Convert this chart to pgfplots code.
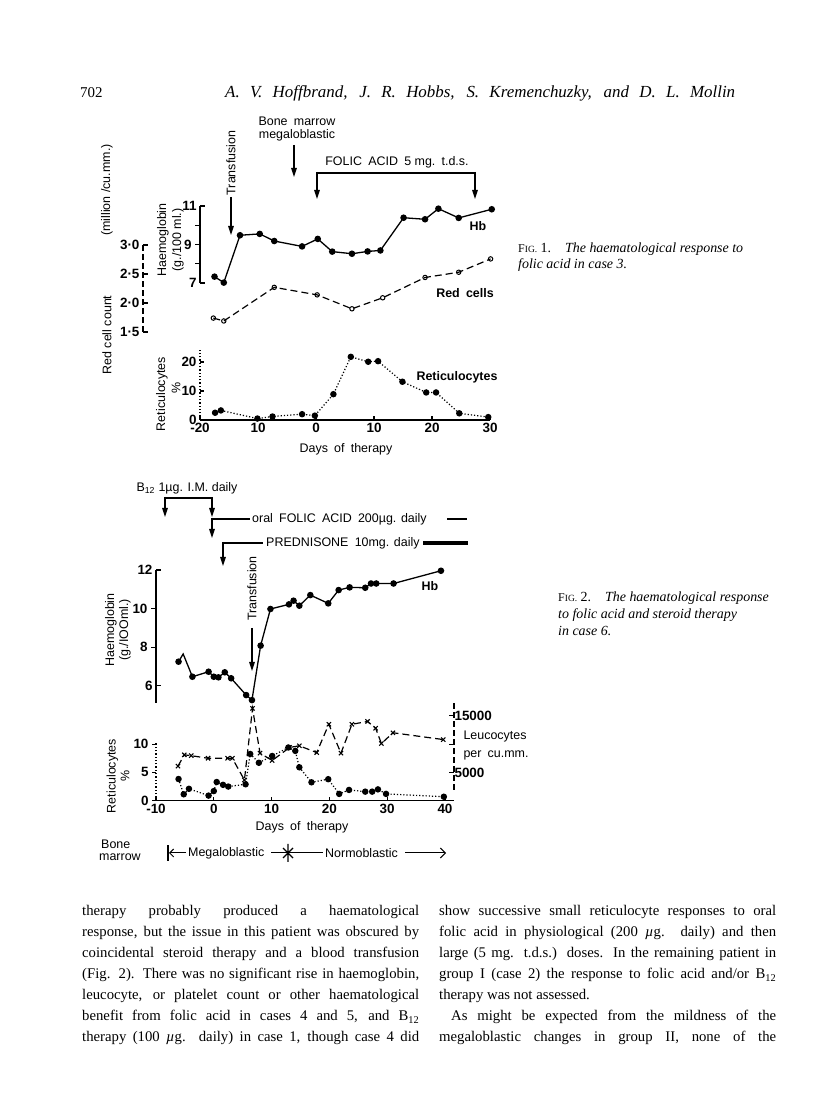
\documentclass[border=0pt]{standalone}
\usepackage{fontspec}
\setmainfont{Liberation Serif}
\setsansfont{Liberation Sans}
\usepackage{pgfplots}
\pgfplotsset{compat=1.18}
\usetikzlibrary{arrows.meta}

\newcommand{\ff}{\sffamily\fontsize{12.5}{14}\selectfont}
\newcommand{\tf}{\sffamily\bfseries\fontsize{13.5}{15}\selectfont}
\newcommand{\bt}{\fontsize{14.8}{16}\selectfont}

\pgfplotsset{
  page/.style={scale only axis, clip=false, anchor=south west,
    tick label style={font=\tf},
    /pgf/number format/assume math mode=true,
    axis line style={line width=1.3bp},
    every tick/.style={black, line width=1.1bp},
    major tick length=5bp},
  hb/.style={black, line width=1.3bp, mark=*, mark size=2.6bp},
}
\tikzset{dar/.style={-{Triangle[length=9bp,width=5.5bp]}, line width=1.4bp},
  lab/.style={font=\ff}, blab/.style={font=\ff\bfseries}}

\begin{document}
\begin{tikzpicture}[x=1bp,y=1bp]
\path[use as bounding box, fill=white] (0,0) rectangle (816,1118);
\coordinate (A1) at (200,835);
\coordinate (A2) at (143,786);
\coordinate (A3) at (200,698);
\coordinate (B1) at (156,415);
\coordinate (B2) at (156,317.3);
\coordinate (B3) at (156,328);

% ---- page header
\node[anchor=base west, inner sep=0] at (80,1020) {\fontsize{15}{17}\selectfont 702};
\node[anchor=base west, inner sep=0] at (225,1020) {\makebox[510bp][s]{\itshape\fontsize{17}{19}\selectfont A. V. Hoffbrand, J. R. Hobbs, S. Kremenchuzky, and D. L. Mollin}};

% ================= FIG. 1 =================
% Hb
\begin{axis}[page, at={(A1)}, width=290bp, height=77bp,
  xmin=-20, xmax=30, ymin=7, ymax=11,
  axis x line=none, axis y line*=left, xtick=\empty,
  ytick={8,9,10}, yticklabels={,9,}, tick align=outside,
  extra y ticks={7,11}, extra y tick labels={7,11},
  extra y tick style={tick align=inside}]
\addplot[hb] coordinates {
  (-17.5,7.33) (-15.9,7.02) (-13.1,9.48) (-9.7,9.55) (-7.2,9.18) (-2.4,8.90)
  (0.3,9.29) (2.8,8.63) (6.2,8.52) (8.9,8.64) (11.1,8.69) (15.1,10.39)
  (18.8,10.31) (21.1,10.86) (24.6,10.38) (30.3,10.83)};
\end{axis}
% Red cells
\begin{axis}[page, at={(A2)}, width=347bp, height=87bp,
  xmin=-29.83, xmax=30, ymin=1.5, ymax=3.0,
  axis x line=none, axis y line*=left, xtick=\empty,
  y axis line style={dash pattern=on 6bp off 3bp},
  ytick={1.5,2,2.5,3}, yticklabels={1·5,2·0,2·5,3·0}, tick align=inside]
\addplot[black, line width=1.2bp, dash pattern=on 7bp off 4bp,
  mark=o, mark size=2.2bp, mark options={solid, fill=white, line width=1bp}] coordinates {
  (-17.7,1.74) (-15.9,1.69) (-7.2,2.27) (0.2,2.14) (6.2,1.90) (11.5,2.09)
  (18.8,2.44) (24.6,2.53) (30.1,2.76)};
\end{axis}
% Reticulocytes
\begin{axis}[page, at={(A3)}, width=290bp, height=71bp,
  xmin=-20, xmax=30, ymin=0, ymax=24.5,
  axis x line*=bottom, axis y line*=left,
  y axis line style={dotted, line width=1.3bp},
  ytick={0,10,20}, yticklabels={0,10,20},
  xtick={-20,-10,0,10,20,30}, xticklabels={-20,10,0,10,20,30},
  tick align=inside, major tick length=4bp]
\addplot[black, line width=1.2bp, dotted, mark=*, mark size=2.6bp,
  mark options={solid}] coordinates {
  (-17.4,2.5) (-16.4,3.3) (-10.1,0.5) (-7.5,1.2) (-2.4,2.0) (-0.2,1.5)
  (3.0,8.9) (6.0,21.8) (9.0,20.1) (10.7,20.3) (14.9,13.2) (19.0,9.5)
  (20.7,9.5) (24.7,2.3) (29.7,1.0)};
\end{axis}

% fig 1 labels and annotations
\node[rotate=90, lab] at (107,783) {Red cell count};
\node[rotate=90, lab] at (107,928) {(million /cu.mm.)};
\node[rotate=90, lab] at (163,878) {Haemoglobin};
\node[rotate=90, lab] at (178,878) {(g./100 ml.)};
\node[rotate=90, lab] at (162,724) {Reticulocytes};
\node[rotate=90, lab] at (176,730) {\%};
\node[lab] at (346,669) {Days\enspace of\enspace therapy};
\node[blab] at (478,892) {Hb};
\node[blab] at (465,825) {Red\enspace cells};
\node[blab] at (457,741) {Reticulocytes};
\node[lab, align=center] at (297,989) {Bone\enspace marrow\\megaloblastic};
\draw[dar] (294,973) -- (294,941);
\node[rotate=90, lab] at (231,955) {Transfusion};
\draw[dar] (231,921) -- (231,883);
\node[lab] at (397,956) {FOLIC\enspace ACID\enspace 5 mg.\enspace t.d.s.};
\draw[line width=2.2bp] (316,945) -- (476,945);
\draw[dar] (317,946) -- (317,919);
\draw[dar] (475,946) -- (475,919);

\node[anchor=base west, inner sep=0] at (518,865) {\fontsize{14}{16}\selectfont{\fontsize{12}{14}\selectfont F\fontsize{9.5}{11}\selectfont IG.}\ 1.\quad\itshape The haematological response to};
\node[anchor=base west, inner sep=0] at (518,849) {\fontsize{14}{16}\selectfont\itshape folic acid in case 3.};

% ================= FIG. 2 =================
\begin{axis}[page, at={(B1)}, width=289bp, height=133bp,
  xmin=-10, xmax=40, ymin=5.11, ymax=12,
  axis x line=none, axis y line*=left, xtick=\empty,
  ytick={8,10}, yticklabels={8,10}, tick align=outside,
  extra y ticks={6,12}, extra y tick labels={6,12},
  extra y tick style={tick align=inside}]
\addplot[hb, mark indices={1,3,4,5,6,7,8,9,10,11,12,13,14,15,16,17,18,19,20,21,22,23,24}] coordinates {
  (-6.1,7.25) (-5.3,7.65) (-3.7,6.47) (-0.9,6.73) (0,6.47) (0.8,6.44)
  (1.9,6.70) (3.0,6.39) (5.6,5.52) (6.6,5.26) (8.1,8.08) (9.8,9.98)
  (13.0,10.22) (13.8,10.41) (14.8,10.15) (16.7,10.70) (19.8,10.27) (21.6,10.96)
  (23.5,11.10) (26.2,11.08) (27.2,11.30) (28.1,11.30) (31.1,11.30) (39.3,11.96)};
\end{axis}
% Reticulocytes and leucocytes (thousands per cu.mm.)
\begin{axis}[page, at={(B2)}, width=298bp, height=97.7bp,
  xmin=-10, xmax=41.56, ymin=0, ymax=17.26,
  axis x line*=bottom, axis y line*=left,
  y axis line style={draw=none},
  ytick=\empty, extra y ticks={0,5,10}, extra y tick labels={0,5,10},
  extra y tick style={tick align=outside},
  xtick={-10,0,10,20,30,40}, xticklabels={-10,0,10,20,30,40},
  tick align=inside, major tick length=4bp]
\draw[dotted, line width=1.3bp] (axis cs:-10,0) -- (axis cs:-10,10.2);
\addplot[black, line width=1.2bp, dotted, mark=*, mark size=2.6bp,
  mark options={solid}] coordinates {
  (-6.1,3.83) (-5.2,1.13) (-4.3,2.1) (-0.9,0.9) (0,1.7) (0.5,3.3) (1.6,2.8)
  (2.5,2.5) (5.5,2.9) (6.3,8.25) (7.8,6.7) (10.1,7.9) (12.9,9.4) (14.1,8.8)
  (14.8,5.9) (16.9,3.25) (19.8,3.8) (21.7,1.2) (23.4,1.9) (26.2,1.6)
  (27.4,1.6) (28.4,2.0) (29.8,1.2) (39.8,0.7)};
\addplot[black, line width=1.2bp, dash pattern=on 7bp off 4bp,
  mark=x, mark size=3bp, mark options={solid, line width=1.1bp}] coordinates {
  (-6.2,6.1) (-5.1,8.1) (-3.9,7.95) (-1.0,7.5) (2.4,7.5) (3.2,7.5) (5.3,3.66)
  (6.7,16.3) (8.0,8.4) (10.1,7.1) (13.1,9.4) (14.8,9.7) (17.8,8.5) (19.9,13.5)
  (22.0,8.4) (23.9,13.5) (26.6,14.0) (28.0,12.8) (29.0,10.1) (31.0,12.0)
  (39.7,10.8)};
\end{axis}
% leucocyte scale
\begin{axis}[page, at={(B3)}, width=298bp, height=87bp,
  xmin=-10, xmax=41.56, ymin=1.9, ymax=17.26,
  axis x line=none, axis y line*=right, xtick=\empty,
  y axis line style={dash pattern=on 6bp off 3bp},
  ytick={5,10,15}, yticklabels={5000,,15000}, tick align=inside,
  yticklabel style={anchor=west, xshift=-3bp}]
\end{axis}

% fig 2 labels and annotations
\node[rotate=90, lab, align=center] at (118,488) {Haemoglobin\\(g./IOOml.)};
\node[rotate=90, lab, align=center] at (118,342) {Reticulocytes\\\%};
\node[anchor=west, lab] at (460,381) {Leucocytes};
\node[anchor=west, lab] at (460,363) {per\enspace cu.mm.};
\node[lab] at (302,291) {Days\enspace of\enspace therapy};
\node[blab] at (430,532) {Hb};

\node[lab] at (187,630) {B\textsubscript{12} 1µg. I.M. daily};
\draw[line width=1.6bp] (165,620) -- (212,620);
\draw[dar] (165,621) -- (165,601);
\draw[dar] (212,621) -- (212,601);
\draw[line width=1.6bp] (212,599) -- (250,599);
\draw[dar] (212,600) -- (212,580);
\node[anchor=west, lab, inner sep=1bp] at (251,599) {oral\enspace FOLIC\enspace ACID\enspace 200µg. daily};
\draw[line width=2.6bp] (447,599) -- (467,599);
\draw[line width=1.6bp] (223,575) -- (263,575);
\draw[dar] (223,576) -- (223,552);
\node[anchor=west, lab, inner sep=1bp] at (265,575) {PREDNISONE\enspace 10mg. daily};
\draw[line width=3.2bp] (423,575) -- (468,575);
\node[rotate=90, lab] at (252,529.5) {Transfusion};
\draw[dar] (252,490) -- (252,447);

% bone marrow line
\node[anchor=base west, lab, inner sep=0] at (101,269) {Bone};
\node[anchor=base west, lab, inner sep=0] at (99,257) {marrow};
\draw[line width=1.3bp] (168,257) -- (168,273);
\draw[-{Straight Barb[length=4bp]}, line width=1bp] (186,265) -- (169,265);
\node[anchor=west, lab, inner sep=0] at (188,265) {Megaloblastic};
\draw[line width=1bp] (271,265) -- (323,265);
\draw[line width=1.3bp] (288,256) -- (288,274) (283,260) -- (293,270) (283,270) -- (293,260);
\node[anchor=west, lab, inner sep=0] at (325,265) {Normoblastic};
\draw[-{Straight Barb[length=5bp]}, line width=1bp] (405,265) -- (446,265);

\node[anchor=base west, inner sep=0] at (558,516) {\fontsize{14}{16}\selectfont{\fontsize{12}{14}\selectfont F\fontsize{9.5}{11}\selectfont IG.}\ 2.\quad\itshape The haematological response};
\node[anchor=base west, inner sep=0] at (558,499) {\fontsize{14}{16}\selectfont\itshape to folic acid and steroid therapy};
\node[anchor=base west, inner sep=0] at (558,482) {\fontsize{14}{16}\selectfont\itshape in case 6.};

% ---- body text
\begin{scope}[every node/.style={anchor=base west, inner sep=0}]
\node at (82,202) {\bt\makebox[337bp][s]{therapy probably produced a haematological}};
\node at (82,181) {\bt\makebox[337bp][s]{response, but the issue in this patient was obscured by}};
\node at (82,160) {\bt\makebox[337bp][s]{coincidental steroid therapy and a blood transfusion}};
\node at (82,139) {\bt\makebox[337bp][s]{(Fig. 2). There was no significant rise in haemoglobin,}};
\node at (82,118) {\bt\makebox[337bp][s]{leucocyte, or platelet count or other haematological}};
\node at (82,97) {\bt\makebox[337bp][s]{benefit from folic acid in cases 4 and 5, and B\textsubscript{12}}};
\node at (82,76) {\bt\makebox[337bp][s]{therapy (100 \textit{µ}g. daily) in case 1, though case 4 did}};
\node at (439,202) {\bt\makebox[337bp][s]{show successive small reticulocyte responses to oral}};
\node at (439,181) {\bt\makebox[337bp][s]{folic acid in physiological (200 \textit{µ}g. daily) and then}};
\node at (439,160) {\bt\makebox[337bp][s]{large (5 mg. t.d.s.) doses. In the remaining patient in}};
\node at (439,139) {\bt\makebox[337bp][s]{group I (case 2) the response to folic acid and/or B\textsubscript{12}}};
\node at (439,118) {\bt therapy was not assessed.};
\node at (451,97) {\bt\makebox[325bp][s]{As might be expected from the mildness of the}};
\node at (439,76) {\bt\makebox[337bp][s]{megaloblastic changes in group II, none of the}};
\end{scope}
\end{tikzpicture}
\end{document}
